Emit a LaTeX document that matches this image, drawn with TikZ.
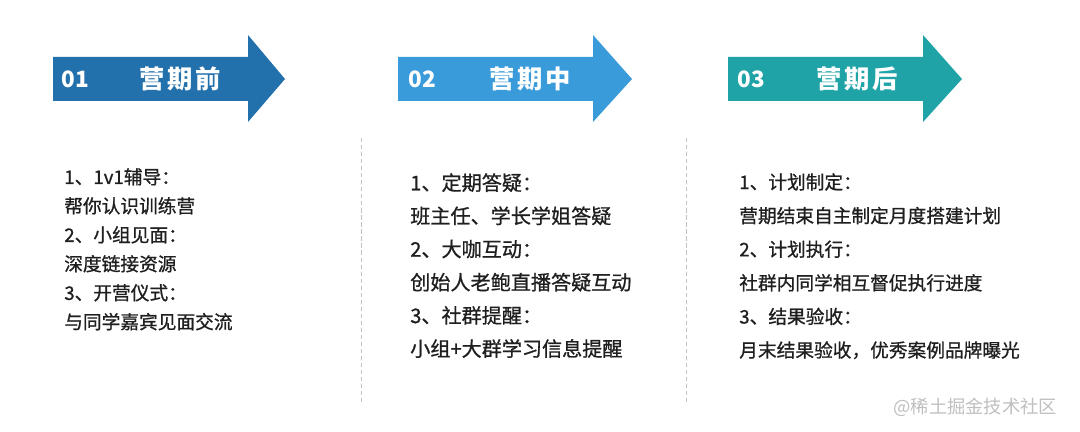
\documentclass[tikz,border=0pt]{standalone}
\usepackage{fontspec}
\setmainfont{Noto Sans CJK SC}
\newfontfamily\medfont[FakeBold=0.9]{Noto Sans CJK SC}
\usetikzlibrary{positioning}
\definecolor{campblue}{HTML}{2371AC}
\definecolor{campsky}{HTML}{3A9BDB}
\definecolor{campteal}{HTML}{1FA3A7}
\definecolor{sepgray}{HTML}{C4C4C4}
\tikzset{
  stepnum/.style={white, font=\bfseries\fontsize{16}{18}\selectfont},
  steptitle/.style={white, font=\bfseries\fontsize{18}{20}\selectfont},
  itemlist/.style={anchor=north west, inner sep=0pt, align=left, text=black!88},
  sepline/.style={sepgray, line width=0.6pt, dash pattern=on 3pt off 2pt}
}
\newcommand{\gap}{\hspace{2pt}}
\begin{document}
\begin{tikzpicture}[x=0.025cm,y={(0cm,-0.025cm)}]
\useasboundingbox (0,0) rectangle (1080,432);
% arrows
\fill[campblue] (53,57) -- (248,57) -- (248,35) -- (285,79) -- (248,122) -- (248,101) -- (53,101) -- cycle;
\fill[campsky] (398,57) -- (593,57) -- (593,35) -- (632,79) -- (593,122) -- (593,101) -- (398,101) -- cycle;
\fill[campteal] (728,57) -- (923,57) -- (923,35) -- (962,79) -- (923,122) -- (923,101) -- (728,101) -- cycle;
\node[stepnum] (num1) at (75,79) {01};
\node[steptitle] (title1) at (180,79) {营\gap 期\gap 前};
\node[stepnum] (num2) at (422,79) {02};
\node[steptitle] (title2) at (530,79) {营\gap 期\gap 中};
\node[stepnum] (num3) at (751,79) {03};
\node[steptitle] (title3) at (857,79) {营\gap 期\gap 后};
% separators
\draw[sepline] (361,138) -- (361,405);
\draw[sepline] (686,138) -- (686,405);
% lists
\node[itemlist, font=\medfont\fontsize{13.3}{20.6}\selectfont] (list1) at (64,168)
  {1、1v1辅导：\\帮你认识训练营\\2、小组见面：\\深度链接资源\\3、开营仪式：\\与同学嘉宾见面交流};
\node[itemlist, font=\medfont\fontsize{14.3}{23.6}\selectfont] (list2) at (410,173)
  {1、定期答疑：\\班主任、学长学姐答疑\\2、大咖互动：\\创始人老鲍直播答疑互动\\3、社群提醒：\\小组+大群学习信息提醒};
\node[itemlist, font=\medfont\fontsize{13.3}{23.9}\selectfont] (list3) at (739,173)
  {1、计划制定：\\营期结束自主制定月度搭建计划\\2、计划执行：\\社群内同学相互督促执行进度\\3、结果验收：\\月末结果验收，优秀案例品牌曝光};
\node[anchor=east, text=black!25, font=\fontsize{13}{15}\selectfont] (mark) at (1062,407) {@稀土掘金技术社区};
\end{tikzpicture}
\end{document}
